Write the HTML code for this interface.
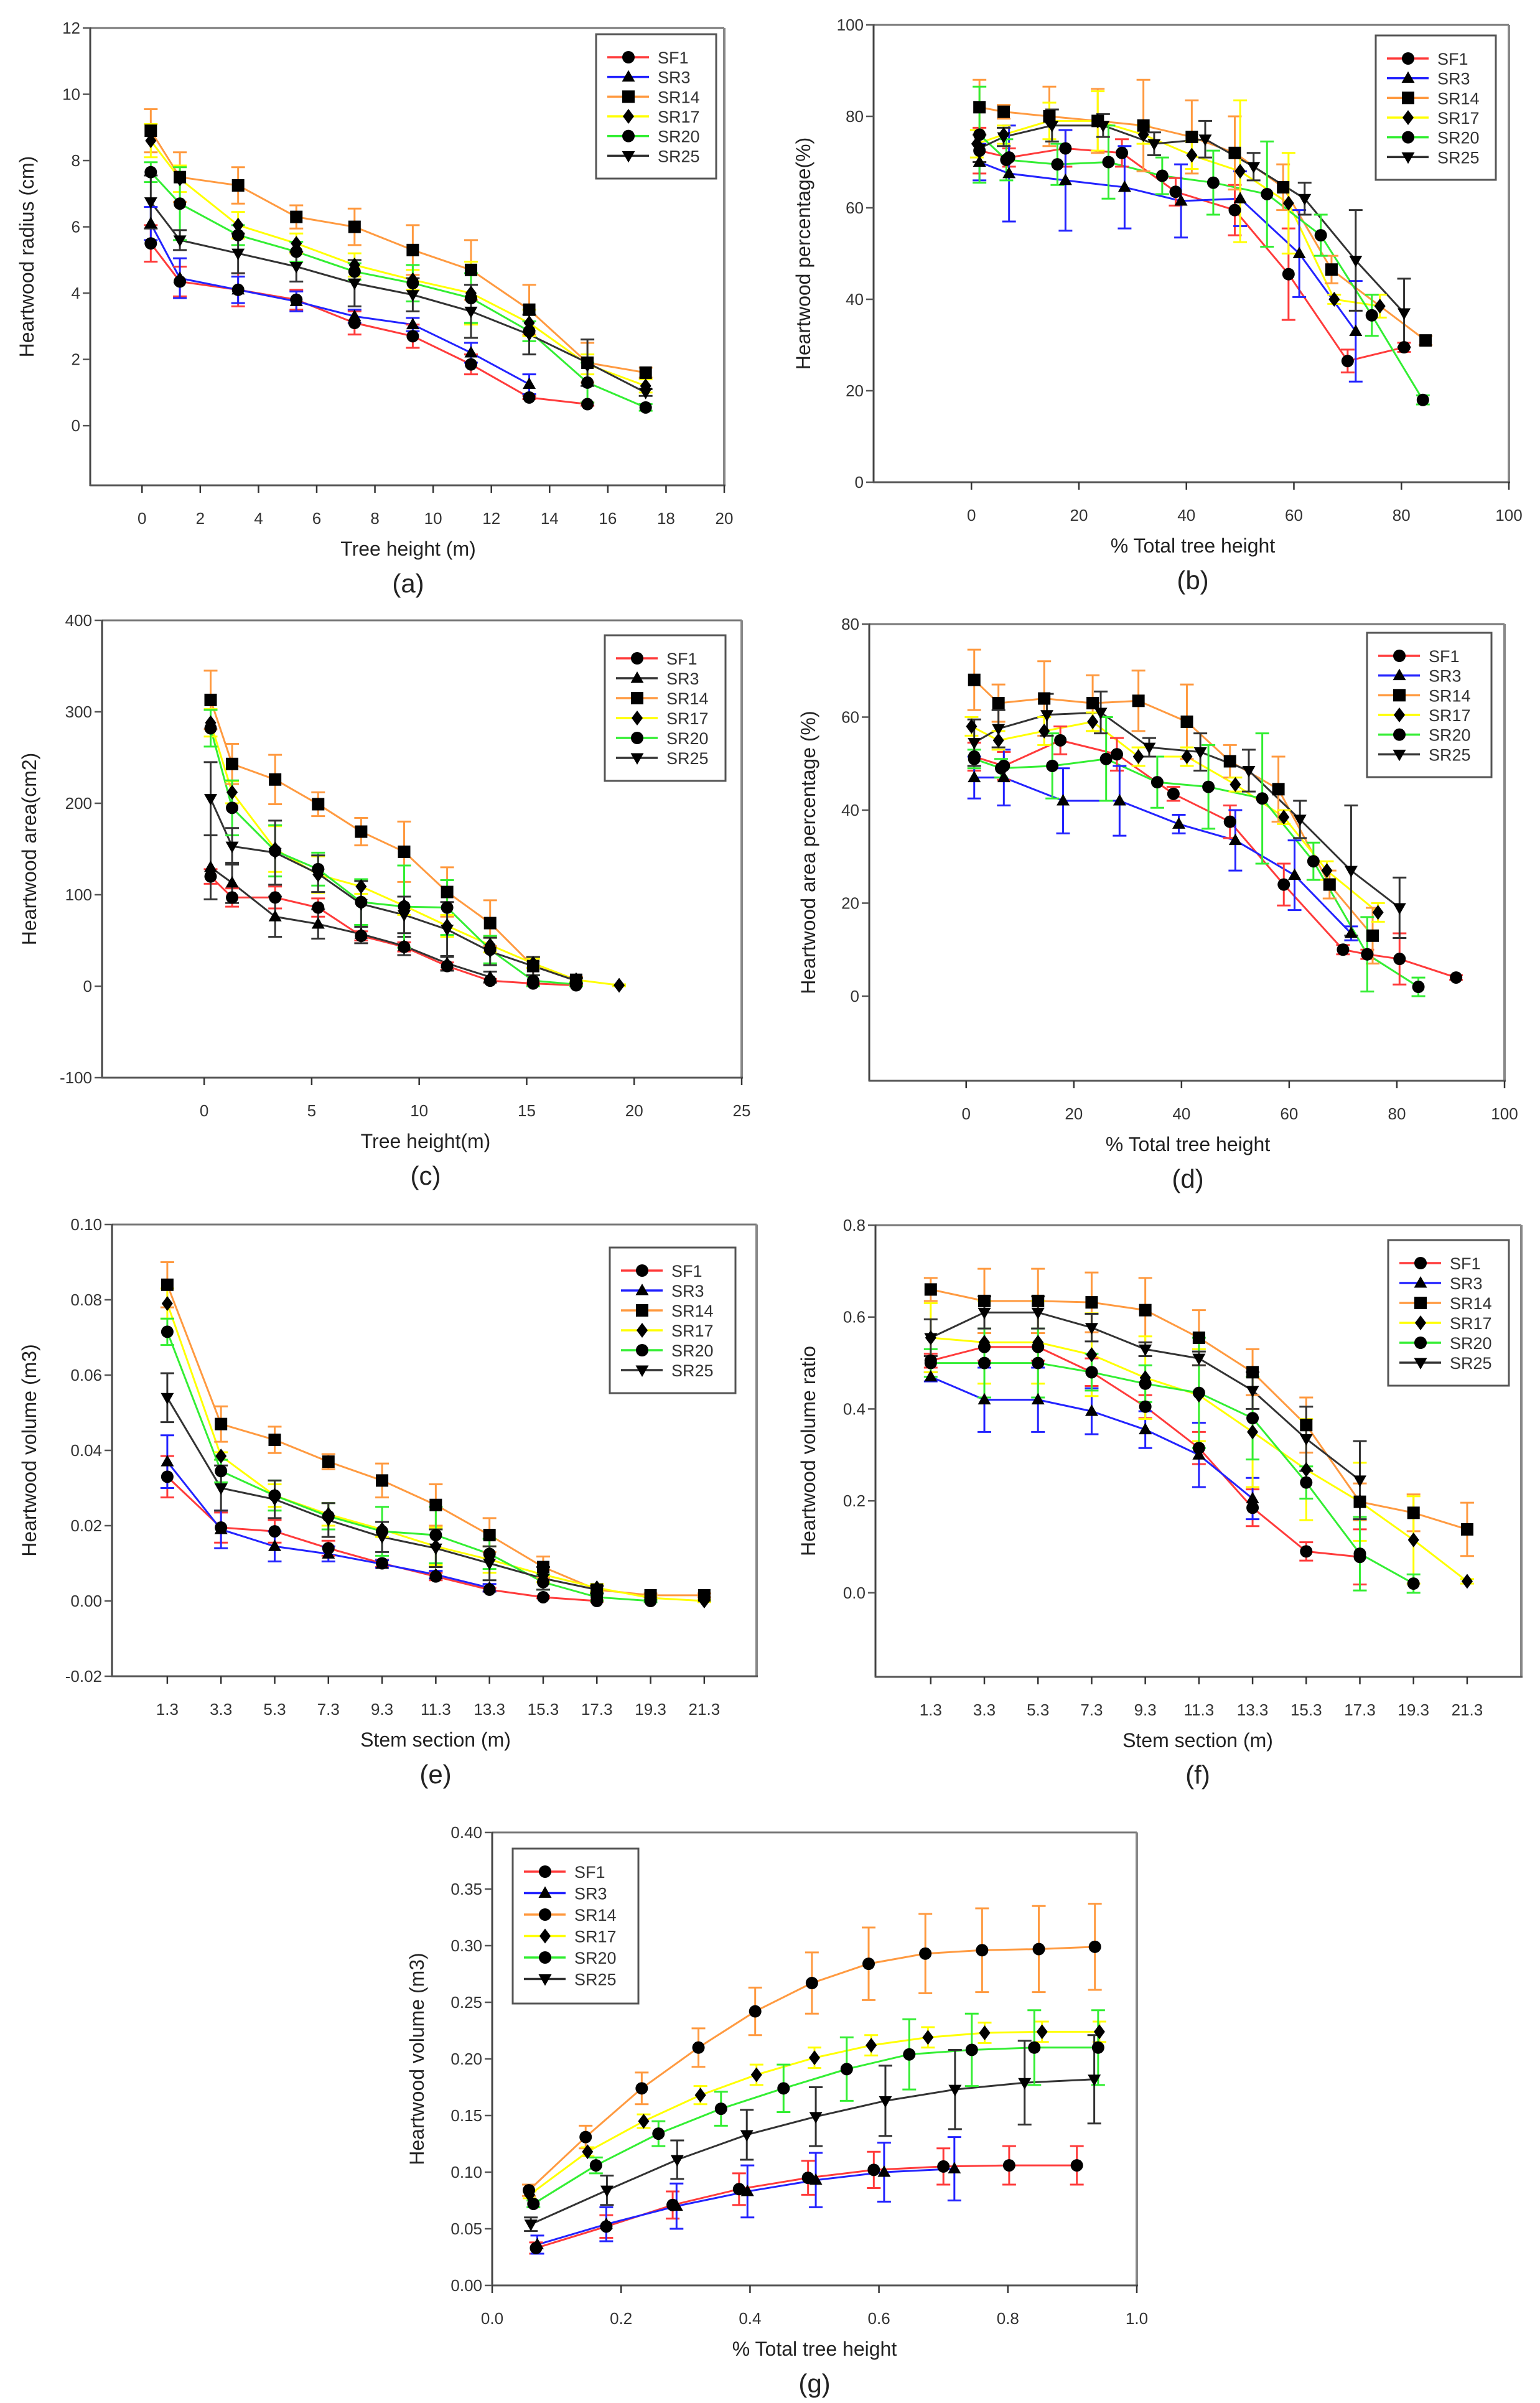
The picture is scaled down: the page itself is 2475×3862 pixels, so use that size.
<!DOCTYPE html>
<html><head><meta charset="utf-8"><style>
html,body{margin:0;padding:0;background:#fff;}
svg{display:block;font-family:"Liberation Sans",Arial,sans-serif;}
</style></head><body>
<svg id="s" width="2475" height="3862" viewBox="0 0 2475 3862" xmlns="http://www.w3.org/2000/svg"></svg>
<script>
const C={r:'#ff3b3b',b:'#2323ff',o:'#ff9a40',y:'#ffff00',g:'#33ee33',k:'#333333'};
const names=['SF1','SR3','SR14','SR17','SR20','SR25'];
const M=['c','t','s','d','c','v'];
function X(arr){return arr;}
const hA=[0.3,1.3,3.3,5.3,7.3,9.3,11.3,13.3,15.3,17.3,19.3];
const hS=[1.3,3.3,5.3,7.3,9.3,11.3,13.3,15.3,17.3,19.3,21.3];
function mk(xs,ys,es){return ys.map((y,i)=>[xs[i],y,es[i]||0]);}
function pts(p,es){return p.map((q,i)=>[q[0],q[1],es[i]||0]);}
const panels=[
{L:145,R:1164,T:45,B:780,x0:-1.78,x1:20,y0:-1.8,y1:12,xt:[0,2,4,6,8,10,12,14,16,18,20],yt:[0,2,4,6,8,10,12],yf:v=>v,
 xl:'Tree height (m)',yl:'Heartwood radius (cm)',lab:'(a)',tx:656,ytx:43,leg:[958,55,193,232],cols:['r','b','o','y','g','k'],
 s:[mk(hA,[5.5,4.35,4.1,3.8,3.1,2.7,1.85,0.85,0.65],[.55,.45,.5,.3,.35,.35,.3,.05,.05]),
    mk(hA,[6.1,4.45,4.1,3.75,3.3,3.05,2.2,1.25],[.5,.6,.4,.3,.2,.2,.3,.3]),
    mk(hA,[8.9,7.5,7.25,6.3,6.0,5.3,4.7,3.5,1.9,1.6],[.65,.75,.55,.35,.55,.75,.9,.75,.6,.15]),
    mk(hA,[8.6,7.45,6.05,5.5,4.85,4.4,4.0,3.1,1.85,1.2],[.5,.4,.4,.3,.35,.3,.95,.4,.3,.2]),
    mk(hA,[7.65,6.7,5.75,5.25,4.65,4.3,3.85,2.85,1.3,0.55],[.3,1.1,.3,.3,.25,.55,.75,.3,.6,.1]),
    mk(hA,[6.75,5.6,5.2,4.8,4.3,3.95,3.45,2.75,1.9,1.0],[.8,.3,.6,.45,.7,.5,.8,.6,.7,.1])]},
{L:1404,R:2425,T:40,B:775,x0:-18.2,x1:100,y0:0,y1:100,xt:[0,20,40,60,80,100],yt:[0,20,40,60,80,100],yf:v=>v,
 xl:'% Total tree height',yl:'Heartwood percentage(%)',lab:'(b)',tx:1917,ytx:1291,leg:[2211,57,193,232],cols:['r','b','o','y','g','k'],
 s:[pts([[1.5,72.5],[7,71],[17.5,73],[28,72],[38,63.5],[49,59.5],[59,45.5],[70,26.5],[80.5,29.5]],[5,2,4,3,3,5.5,10,2.5,1]),
    pts([[1.5,70],[7,67.5],[17.5,66],[28.5,64.5],[39,61.5],[50,62],[61,50],[71.5,33]],[4,10.5,11,9,8,6,9.5,11]),
    pts([[1.5,82],[6,81],[14.5,80],[23.5,79],[32,78],[41,75.5],[49,72],[58,64.5],[67,46.5],[84.5,31]],[6,1.5,6.5,7,10,8,8,5,3,1]),
    pts([[1,74],[6,76],[14.5,79],[23.5,79],[32,76],[41,71.5],[50,68],[59,61],[67.5,40],[76,38.5]],[3,2,4,6.5,2,3,15.5,11,1,2.5]),
    pts([[1.5,76],[6.5,70.5],[16,69.5],[25.5,70],[35.5,67],[45,65.5],[55,63],[65,54],[74.5,36.5],[84,18]],[10.5,4.5,4.5,8,4,7,11.5,4.5,4.5,1]),
    pts([[1.5,73],[6,75.5],[15,78],[24.5,78],[34,74],[43.5,75],[52.5,69],[62,62],[71.5,48.5],[80.5,37]],[3,2,3.5,2.5,2.5,4,3,3.5,11,7.5])]},
{L:164,R:1192,T:997,B:1732,x0:-4.75,x1:25,y0:-100,y1:400,xt:[0,5,10,15,20,25],yt:[-100,0,100,200,300,400],yf:v=>v,
 xl:'Tree height(m)',yl:'Heartwood area(cm2)',lab:'(c)',tx:684,ytx:47,leg:[972,1021,194,234],cols:['r','k','o','y','g','k'],
 s:[mk(hA,[120,97,97,86,55,43,22,6,3,1],[8,10,12,10,5,5,4,2,1,1]),
    mk(hA,[130,113,76,68,57,44,25,10],[35,22,22,16,10,10,8,6]),
    mk(hA,[313,243,226,199,169,147,103,69,22,7],[32,22,27,13,15,33,27,25,10,3]),
    mk(hA,[288,212,150,122,109,88,66,45,25,7,1],[15,12,25,20,8,10,12,8,5,2,1]),
    mk(hA,[282,195,148,128,92,87,86,40,6,2],[20,30,28,18,25,45,30,15,6,2]),
    mk(hA,[205,153,146,123,90,78,62,38,22,6],[40,20,35,20,25,20,30,15,10,3])]},
{L:1397,R:2418,T:1003,B:1737,x0:-18,x1:100,y0:-18.2,y1:80,xt:[0,20,40,60,80,100],yt:[0,20,40,60,80],yf:v=>v,
 xl:'% Total tree height',yl:'Heartwood area percentage (%)',lab:'(d)',tx:1909,ytx:1299,leg:[2197,1017,200,232],cols:['r','b','o','y','g','k'],
 s:[pts([[1.5,51.5],[7,49.5],[17.5,55],[28,52],[38.5,43.5],[49,37.5],[59,24],[70,10],[74.5,9],[80.5,8],[91,4]],[3,3,3,3.5,1.5,3.5,4.5,1,1,5.5,.5]),
    pts([[1.5,47],[7,47],[18,42],[28.5,42],[39.5,37],[50,33.5],[61,26],[71.5,13.5]],[4.5,6,7,7.5,2,6.5,7.5,1.5]),
    pts([[1.5,68],[6,63],[14.5,64],[23.5,63],[32,63.5],[41,59],[49,50.5],[58,44.5],[67.5,24],[75.5,13]],[6.5,4,8,6,6.5,8,3.5,7,3,6]),
    pts([[1,58],[6,55],[14.5,57],[23.5,59],[32,51.5],[41,51.5],[50,45.5],[59,38.5],[67,27],[76.5,18]],[2,2,3,2,2,2,1.5,1.5,2,2]),
    pts([[1.5,51],[6.5,49],[16,49.5],[26,51],[35.5,46],[45,45],[55,42.5],[64.5,29],[74.5,9],[84,2]],[2,2,7,9,5.5,9,14,4,8,2]),
    pts([[1.5,54.5],[6,57.5],[15,60.5],[25,61],[34,53.5],[43.5,52.5],[52.5,48.5],[62,38],[71.5,27],[80.5,19]],[5,4,4.5,4.5,2,4,4.5,4,14,6.5])]},
{L:180,R:1216,T:1968,B:2694,x0:-0.76,x1:23.25,y0:-0.02,y1:0.10,xt:hS,yt:[-0.02,0,0.02,0.04,0.06,0.08,0.10],yf:v=>v.toFixed(2),xf:v=>v.toFixed(1),
 xl:'Stem section (m)',yl:'Heartwood volume (m3)',lab:'(e)',tx:700,ytx:47,leg:[980,2005,202,234],cols:['r','b','o','y','g','k'],
 s:[mk(hS,[.033,.0195,.0185,.014,.010,.0065,.003,.001,0.0],[.0055,.004,.003,.002,.001,.001,.0005,.0003,.0002]),
    mk(hS,[.037,.019,.0145,.0125,.0098,.007,.0035],[.007,.005,.004,.002,.001,.001,.001]),
    mk(hS,[.084,.047,.0428,.037,.032,.0255,.0175,.009,.003,.0015,.0015],[.006,.0047,.0035,.002,.0045,.0055,.0045,.0028,.001,.0005,.0005]),
    mk(hS,[.079,.0385,.028,.023,.019,.0145,.011,.007,.0035,.0008,0.0],[.004,.001,.003,.003,.002,.005,.0035,.002,.001,.0005,.0003]),
    mk(hS,[.0715,.0345,.028,.0225,.0185,.0175,.0125,.005,.001,0.0],[.0035,.003,.004,.0035,.0065,.0075,.004,.002,.001,.0003]),
    mk(hS,[.054,.030,.027,.0215,.017,.014,.010,.006,.003],[.0065,.006,.005,.0045,.004,.005,.0045,.003,.001])]},
{L:1407,R:2445,T:1969,B:2695,x0:-0.76,x1:23.32,y0:-0.183,y1:0.8,xt:hS,yt:[0,0.2,0.4,0.6,0.8],yf:v=>v.toFixed(1),xf:v=>v.toFixed(1),
 xl:'Stem section (m)',yl:'Heartwood volume ratio',lab:'(f)',tx:1925,ytx:1299,leg:[2231,1993,194,234],cols:['r','b','o','y','g','k'],
 s:[mk(hS,[.505,.535,.535,.48,.405,.315,.185,.09,.078],[.015,.03,.03,.03,.025,.035,.04,.02,.06]),
    mk(hS,[.47,.42,.42,.395,.355,.30,.205],[.01,.07,.07,.05,.04,.07,.045]),
    mk(hS,[.66,.635,.635,.632,.615,.555,.48,.365,.198,.174,.138],[.025,.07,.07,.065,.07,.06,.05,.06,.04,.04,.058]),
    mk(hS,[.555,.545,.545,.518,.468,.43,.35,.268,.198,.115,.025],[.075,.09,.09,.09,.09,.1,.12,.11,.085,.095,.005]),
    mk(hS,[.50,.50,.50,.48,.455,.435,.38,.24,.085,.02],[.03,.075,.075,.04,.04,.12,.09,.035,.08,.02]),
    mk(hS,[.555,.61,.61,.577,.53,.51,.44,.335,.245],[.04,.035,.035,.03,.015,.015,.04,.07,.085])]},
{L:791,R:1827,T:2945,B:3673,x0:0,x1:1,y0:0,y1:0.4,xt:[0,.2,.4,.6,.8,1],yt:[0,.05,.1,.15,.2,.25,.3,.35,.4],yf:v=>v.toFixed(2),xf:v=>v.toFixed(1),
 xl:'% Total tree height',yl:'Heartwood volume (m3)',lab:'(g)',tx:1309,ytx:670,leg:[824,2971,202,249],cols:['r','b','o','y','g','k'],mk:['c','t','c','d','c','v'],
 s:[pts([[.068,.033],[.177,.052],[.28,.071],[.383,.085],[.49,.095],[.592,.102],[.70,.105],[.802,.106],[.907,.106]],[.005,.01,.012,.014,.015,.016,.016,.017,.017]),
    pts([[.07,.036],[.177,.054],[.286,.070],[.396,.083],[.502,.093],[.608,.100],[.717,.103]],[.008,.015,.02,.023,.024,.026,.028]),
    pts([[.057,.084],[.145,.131],[.232,.174],[.32,.210],[.408,.242],[.496,.267],[.584,.284],[.672,.293],[.76,.296],[.848,.297],[.935,.299]],[.005,.01,.014,.017,.021,.027,.032,.035,.037,.038,.038]),
    pts([[.058,.08],[.148,.118],[.235,.145],[.323,.168],[.41,.186],[.50,.201],[.588,.212],[.676,.219],[.764,.223],[.853,.224],[.942,.224]],[.003,.004,.006,.008,.009,.009,.009,.009,.009,.009,.009]),
    pts([[.064,.072],[.161,.106],[.258,.134],[.355,.156],[.452,.174],[.55,.191],[.647,.204],[.744,.208],[.841,.21],[.94,.21]],[.003,.007,.011,.015,.021,.028,.031,.032,.033,.033]),
    pts([[.06,.054],[.178,.084],[.287,.111],[.395,.133],[.502,.149],[.61,.163],[.718,.173],[.826,.179],[.934,.182]],[.006,.013,.017,.022,.026,.031,.035,.037,.039])]}
];
let h='';
function marker(t,x,y,r){
 r=r||10;
 if(t=='c')return `<circle cx="${x}" cy="${y}" r="${r}" fill="#000"/>`;
 if(t=='s')return `<rect x="${x-r}" y="${y-r}" width="${2*r}" height="${2*r}" fill="#000"/>`;
 if(t=='t')return `<polygon points="${x},${y-r*1.1} ${x+r*1.05},${y+r*.75} ${x-r*1.05},${y+r*.75}" fill="#000"/>`;
 if(t=='v')return `<polygon points="${x},${y+r*1.1} ${x+r*1.05},${y-r*.75} ${x-r*1.05},${y-r*.75}" fill="#000"/>`;
 if(t=='d')return `<polygon points="${x},${y-r*1.2} ${x+r*.9},${y} ${x},${y+r*1.2} ${x-r*.9},${y}" fill="#000"/>`;
}
panels.forEach(p=>{
 const sx=v=>p.L+(v-p.x0)/(p.x1-p.x0)*(p.R-p.L);
 const sy=v=>p.B-(v-p.y0)/(p.y1-p.y0)*(p.B-p.T);
 const mks=p.mk||M;
 // frame
 h+=`<line x1="${p.L}" y1="${p.T}" x2="${p.R}" y2="${p.T}" stroke="#777" stroke-width="3"/>`;
 h+=`<line x1="${p.R}" y1="${p.T}" x2="${p.R}" y2="${p.B}" stroke="#888" stroke-width="4"/>`;
 h+=`<line x1="${p.L}" y1="${p.T-1}" x2="${p.L}" y2="${p.B+1}" stroke="#444" stroke-width="3"/>`;
 h+=`<line x1="${p.L-1}" y1="${p.B}" x2="${p.R+2}" y2="${p.B}" stroke="#555" stroke-width="3"/>`;
 p.xt.forEach(v=>{const x=sx(v);h+=`<line x1="${x}" y1="${p.B}" x2="${x}" y2="${p.B+12}" stroke="#333" stroke-width="2.5"/>`;
  h+=`<text x="${x}" y="${p.B+62}" font-size="26" text-anchor="middle" fill="#333">${p.xf?p.xf(v):v}</text>`;});
 p.yt.forEach(v=>{const y=sy(v);h+=`<line x1="${p.L-12}" y1="${y}" x2="${p.L}" y2="${y}" stroke="#555" stroke-width="2.5"/>`;
  h+=`<text x="${p.L-16}" y="${y+9}" font-size="26" text-anchor="end" fill="#333">${p.yf(v)}</text>`;});
 h+=`<text x="${p.tx}" y="${p.B+113}" font-size="32" text-anchor="middle" fill="#222">${p.xl}</text>`;
 h+=`<text x="${p.tx}" y="${p.B+172}" font-size="42" text-anchor="middle" fill="#222">${p.lab}</text>`;
 const cy=(p.T+p.B)/2;
 h+=`<text x="${p.ytx+11}" y="${cy}" font-size="32" text-anchor="middle" fill="#222" transform="rotate(-90 ${p.ytx+11} ${cy})">${p.yl}</text>`;
 // lines
 p.s.forEach((s,i)=>{h+=`<polyline points="${s.map(q=>sx(q[0])+','+sy(q[1])).join(' ')}" fill="none" stroke="${C[p.cols[i]]}" stroke-width="3"/>`;});
 p.s.forEach((s,i)=>{s.forEach(q=>{const x=sx(q[0]),y1=sy(q[1]+q[2]),y2=sy(q[1]-q[2]);if(q[2]<=0)return;
  h+=`<path d="M${x} ${y1}V${y2}M${x-11} ${y1}H${x+11}M${x-11} ${y2}H${x+11}" stroke="${C[p.cols[i]]}" stroke-width="3" fill="none"/>`;});});
 p.s.forEach((s,i)=>{s.forEach(q=>{h+=marker(mks[i],sx(q[0]),sy(q[1]));});});
 // legend
 const [lx,ly,lw,lh]=p.leg;
 h+=`<rect x="${lx}" y="${ly}" width="${lw}" height="${lh}" fill="#fff" stroke="#555" stroke-width="3"/>`;
 const sp=(lh-42)/6;
 for(let i=0;i<6;i++){const y=ly+37+i*sp*1.0;
  h+=`<line x1="${lx+18}" y1="${y}" x2="${lx+85}" y2="${y}" stroke="${C[p.cols[i]]}" stroke-width="3.5"/>`;
  h+=marker(mks[i],lx+52,y,10);
  h+=`<text x="${lx+99}" y="${y+10}" font-size="27" fill="#333">${names[i]}</text>`;}
});
document.getElementById('s').innerHTML=h;
</script>
</body></html>
